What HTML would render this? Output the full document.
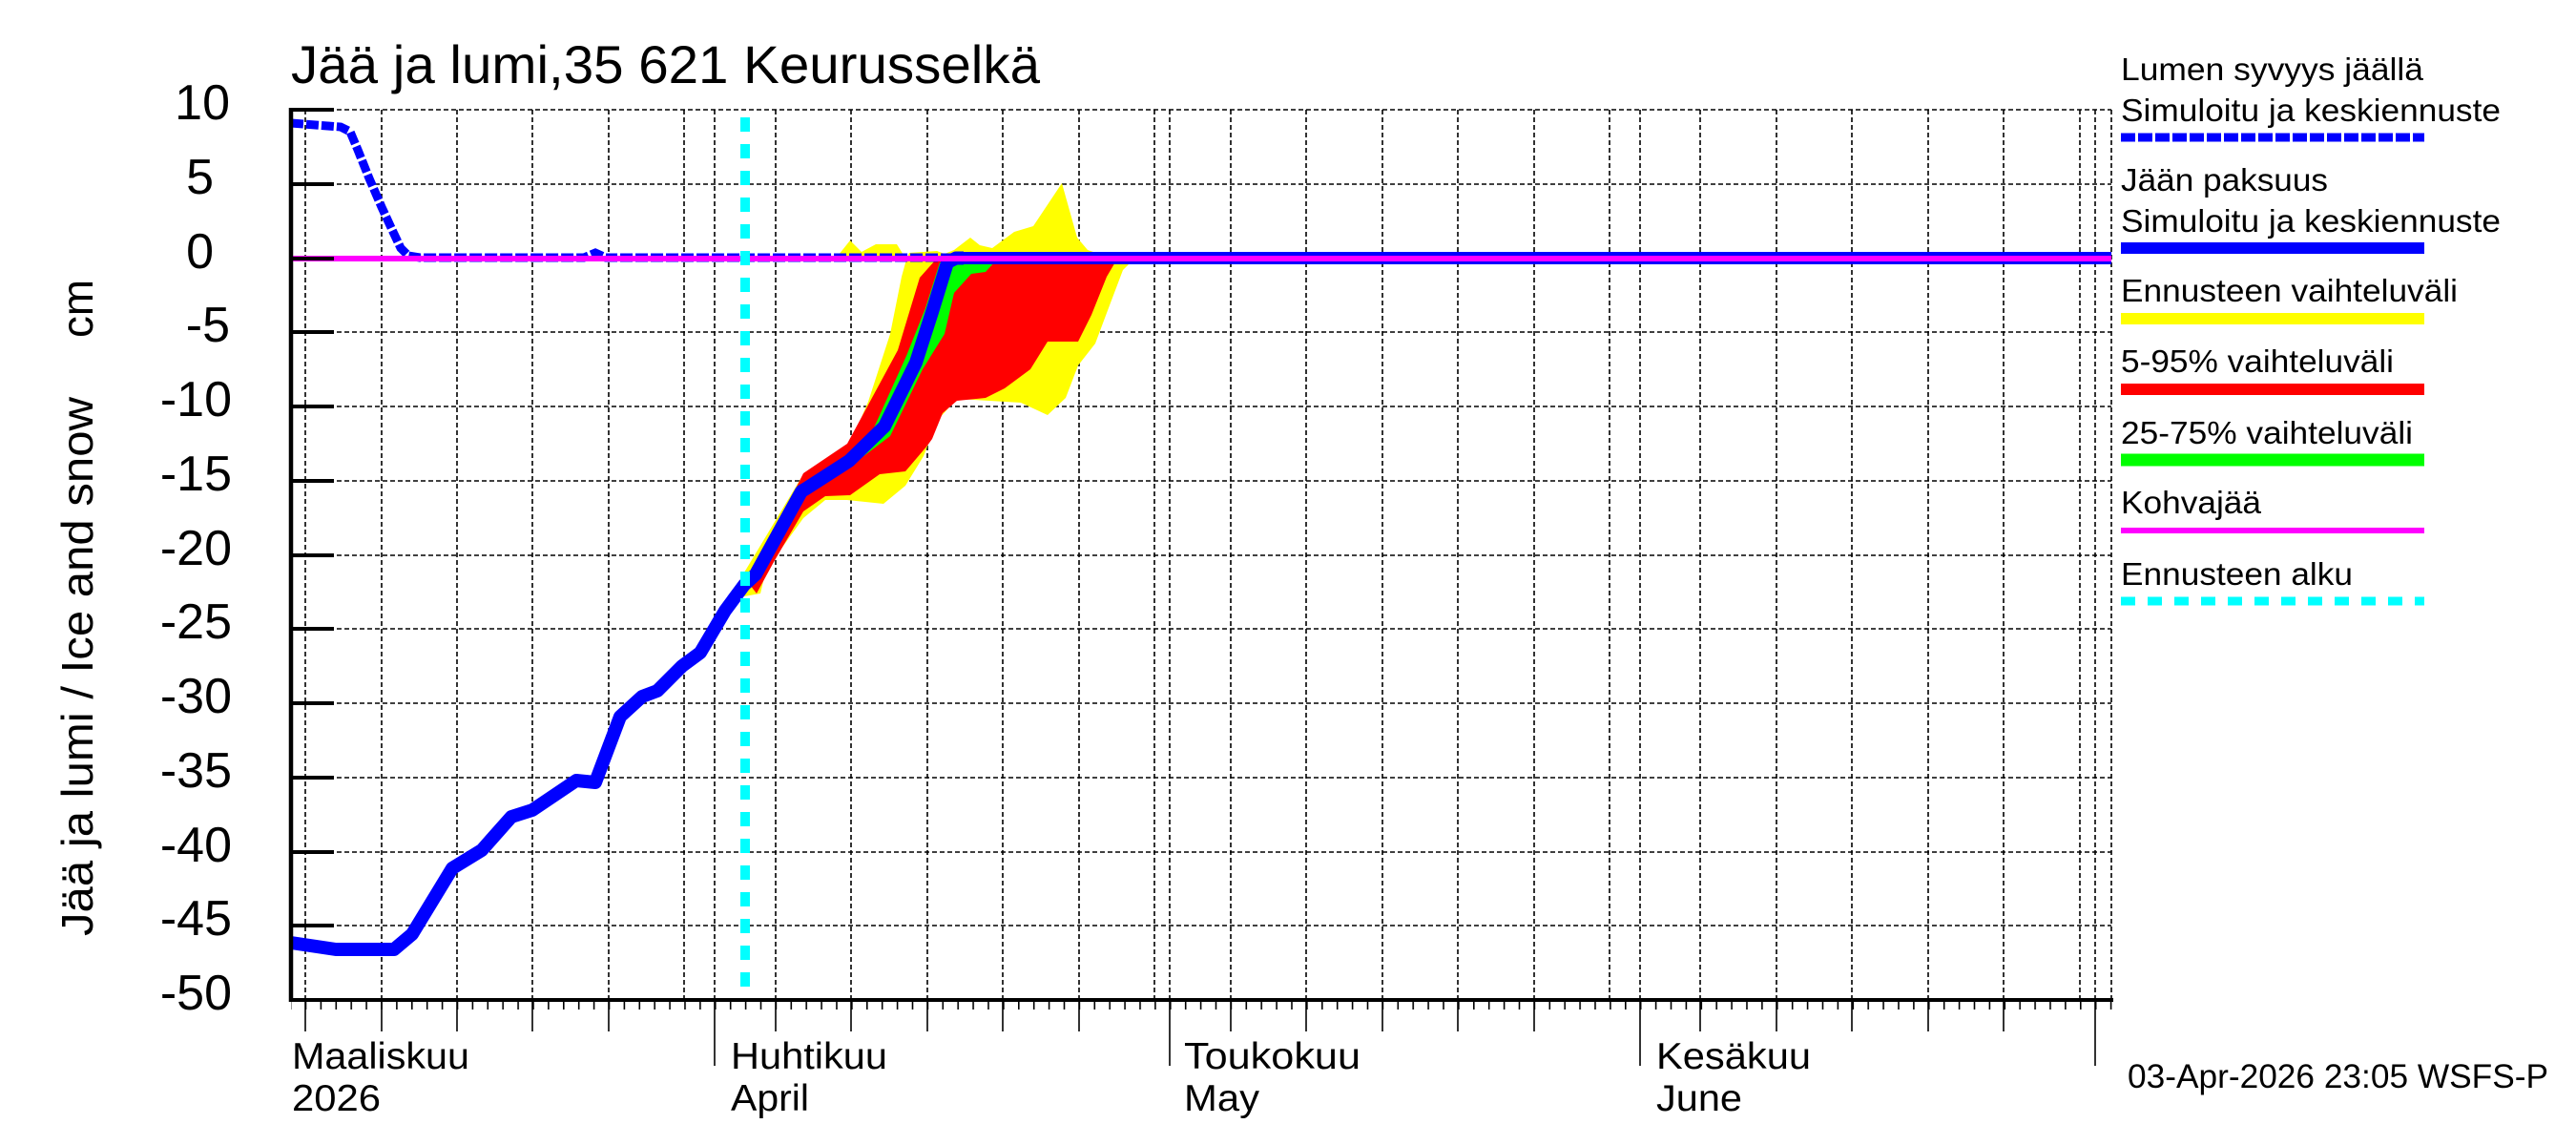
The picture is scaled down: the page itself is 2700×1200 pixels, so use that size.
<!DOCTYPE html>
<html><head><meta charset="utf-8"><style>
html,body{margin:0;padding:0;background:#fff;}
svg{display:block;}
text{font-family:"Liberation Sans",sans-serif;fill:#000;}
</style></head><body>
<svg width="2700" height="1200" viewBox="0 0 2700 1200" xmlns="http://www.w3.org/2000/svg">
<defs>
<pattern id="minor" x="749" y="0" width="15.9" height="1200" patternUnits="userSpaceOnUse">
<rect x="0" y="0" width="1.6" height="1200" fill="#000"/>
</pattern>
</defs>
<rect width="2700" height="1200" fill="#fff"/>

<!-- horizontal grid -->
<g stroke="#000" stroke-width="1.6" stroke-dasharray="5,3">
<line x1="305" y1="115" x2="2213" y2="115"/>
<line x1="305" y1="193" x2="2213" y2="193"/>
<line x1="305" y1="271" x2="2213" y2="271"/>
<line x1="305" y1="348" x2="2213" y2="348"/>
<line x1="305" y1="426" x2="2213" y2="426"/>
<line x1="305" y1="504" x2="2213" y2="504"/>
<line x1="305" y1="582" x2="2213" y2="582"/>
<line x1="305" y1="659" x2="2213" y2="659"/>
<line x1="305" y1="737" x2="2213" y2="737"/>
<line x1="305" y1="815" x2="2213" y2="815"/>
<line x1="305" y1="893" x2="2213" y2="893"/>
<line x1="305" y1="970" x2="2213" y2="970"/>
</g>
<!-- vertical grid -->
<g stroke="#000" stroke-width="1.6" stroke-dasharray="5,3">
<line x1="320" y1="115" x2="320" y2="1048"/>
<line x1="400" y1="115" x2="400" y2="1048"/>
<line x1="479" y1="115" x2="479" y2="1048"/>
<line x1="558" y1="115" x2="558" y2="1048"/>
<line x1="638" y1="115" x2="638" y2="1048"/>
<line x1="717" y1="115" x2="717" y2="1048"/>
<line x1="749" y1="115" x2="749" y2="1048"/>
<line x1="813" y1="115" x2="813" y2="1048"/>
<line x1="892" y1="115" x2="892" y2="1048"/>
<line x1="972" y1="115" x2="972" y2="1048"/>
<line x1="1051" y1="115" x2="1051" y2="1048"/>
<line x1="1131" y1="115" x2="1131" y2="1048"/>
<line x1="1210" y1="115" x2="1210" y2="1048"/>
<line x1="1226" y1="115" x2="1226" y2="1048"/>
<line x1="1290" y1="115" x2="1290" y2="1048"/>
<line x1="1369" y1="115" x2="1369" y2="1048"/>
<line x1="1449" y1="115" x2="1449" y2="1048"/>
<line x1="1528" y1="115" x2="1528" y2="1048"/>
<line x1="1608" y1="115" x2="1608" y2="1048"/>
<line x1="1687" y1="115" x2="1687" y2="1048"/>
<line x1="1719" y1="115" x2="1719" y2="1048"/>
<line x1="1782" y1="115" x2="1782" y2="1048"/>
<line x1="1862" y1="115" x2="1862" y2="1048"/>
<line x1="1941" y1="115" x2="1941" y2="1048"/>
<line x1="2021" y1="115" x2="2021" y2="1048"/>
<line x1="2100" y1="115" x2="2100" y2="1048"/>
<line x1="2180" y1="115" x2="2180" y2="1048"/>
<line x1="2196" y1="115" x2="2196" y2="1048"/>
<line x1="2213" y1="115" x2="2213" y2="1048"/>
</g>

<!-- uncertainty bands -->
<polygon fill="#ffff00" points="875,272 891,252 903,264 918,256 940,256 950,272"/>
<polygon fill="#ffff00" points="780,600 842,497 891,465 910,421 933,350 945,290 950,272 953,265 982,263 990,266 1000,262 1017,249 1027,257 1040,260 1063,243 1083,237 1113,192 1129,249 1140,262 1183,277 1177,283 1163,320 1148,360 1130,383 1117,417 1098,435 1070,422 1003,418 983,440 968,478 949,509 926,528 888,524 865,524 842,543 803,597 797,622 780,625"/>
<polygon fill="#ff0000" points="780,605 793,595 842,496 888,465 941,367 964,291 980,273 1170,273 1160,290 1144,330 1130,358 1098,358 1080,387 1053,407 1033,417 1003,420 988,433 977,460 972,467 949,494 922,497 891,519 865,520 842,536 811,589 793,622"/>
<polygon fill="#00ff00" points="860,500 913,455 950,373 970,323 985,275 1043,274 1033,285 1018,287 1000,307 990,350 967,387 933,457 900,482 862,508"/>

<!-- zero / kohvajää -->
<line x1="1000" y1="270.5" x2="2213" y2="270.5" stroke="#0000ff" stroke-width="13"/>
<!-- ice thickness -->
<polyline fill="none" stroke="#0000ff" stroke-width="14" stroke-linejoin="round" points="305,988 352,995 413,995 432,979 474,910 505,891 536,856 558,849 604,818 624,820 650,751 673,730 689,724 715,698 734,684 760,640 780,613 792,602 840,515 845,512 890,483 927,447 960,380 977,327 993,275 1002,270.5 1010,270.5"/>
<!-- snow depth -->
<polyline fill="none" stroke="#0000ff" stroke-width="9" stroke-dasharray="13,3" points="305,129 357,133 367,138 375,157 387,187 400,217 412,243 420,260 428,268 440,270 612,270 624,265 635,270 1000,270"/>
<line x1="305" y1="271" x2="2213" y2="271" stroke="#ff00ff" stroke-width="6"/>
<!-- forecast start -->
<line x1="781" y1="123" x2="781" y2="1048" stroke="#00ffff" stroke-width="10" stroke-dasharray="15,13"/>

<!-- axes -->
<line x1="305" y1="113" x2="305" y2="1050" stroke="#000" stroke-width="4.5"/>
<line x1="303" y1="1048" x2="2215" y2="1048" stroke="#000" stroke-width="4"/>
<g stroke="#000" stroke-width="4">
<line x1="305" y1="115" x2="350" y2="115"/><line x1="305" y1="193" x2="350" y2="193"/>
<line x1="305" y1="271" x2="350" y2="271"/><line x1="305" y1="348" x2="350" y2="348"/>
<line x1="305" y1="426" x2="350" y2="426"/><line x1="305" y1="504" x2="350" y2="504"/>
<line x1="305" y1="582" x2="350" y2="582"/><line x1="305" y1="659" x2="350" y2="659"/>
<line x1="305" y1="737" x2="350" y2="737"/><line x1="305" y1="815" x2="350" y2="815"/>
<line x1="305" y1="893" x2="350" y2="893"/><line x1="305" y1="970" x2="350" y2="970"/>
</g>
<rect x="305" y="1048" width="1910" height="10" fill="url(#minor)"/>
<g stroke="#000" stroke-width="1.6">
<line x1="320" y1="1048" x2="320" y2="1081"/><line x1="400" y1="1048" x2="400" y2="1081"/>
<line x1="479" y1="1048" x2="479" y2="1081"/><line x1="558" y1="1048" x2="558" y2="1081"/>
<line x1="638" y1="1048" x2="638" y2="1081"/>
<line x1="813" y1="1048" x2="813" y2="1081"/><line x1="892" y1="1048" x2="892" y2="1081"/>
<line x1="972" y1="1048" x2="972" y2="1081"/><line x1="1051" y1="1048" x2="1051" y2="1081"/>
<line x1="1131" y1="1048" x2="1131" y2="1081"/>
<line x1="1290" y1="1048" x2="1290" y2="1081"/><line x1="1369" y1="1048" x2="1369" y2="1081"/>
<line x1="1449" y1="1048" x2="1449" y2="1081"/><line x1="1528" y1="1048" x2="1528" y2="1081"/>
<line x1="1608" y1="1048" x2="1608" y2="1081"/>
<line x1="1782" y1="1048" x2="1782" y2="1081"/><line x1="1862" y1="1048" x2="1862" y2="1081"/>
<line x1="1941" y1="1048" x2="1941" y2="1081"/><line x1="2021" y1="1048" x2="2021" y2="1081"/>
<line x1="2100" y1="1048" x2="2100" y2="1081"/>
<line x1="749" y1="1048" x2="749" y2="1117"/><line x1="1226" y1="1048" x2="1226" y2="1117"/>
<line x1="1719" y1="1048" x2="1719" y2="1117"/><line x1="2196" y1="1048" x2="2196" y2="1117"/>
</g>

<!-- y tick labels -->
<g font-size="52" text-anchor="end">
<text x="241" y="125">10</text>
<text x="224" y="203">5</text>
<text x="224" y="281">0</text>
<text x="241" y="358">-5</text>
<text x="243" y="436">-10</text>
<text x="243" y="514">-15</text>
<text x="243" y="592">-20</text>
<text x="243" y="669">-25</text>
<text x="243" y="747">-30</text>
<text x="243" y="825">-35</text>
<text x="243" y="903">-40</text>
<text x="243" y="980">-45</text>
<text x="243" y="1058">-50</text>
</g>

<!-- titles -->
<text x="305" y="87" font-size="56" textLength="785" lengthAdjust="spacingAndGlyphs">Jää ja lumi,35 621 Keurusselkä</text>
<text transform="translate(97,981) rotate(-90)" font-size="46" textLength="565" lengthAdjust="spacingAndGlyphs">Jää ja lumi / Ice and snow</text>
<text transform="translate(97,354) rotate(-90)" font-size="46" textLength="61" lengthAdjust="spacingAndGlyphs">cm</text>

<!-- x labels -->
<g font-size="39">
<text x="306" y="1120" textLength="186" lengthAdjust="spacingAndGlyphs">Maaliskuu</text>
<text x="306" y="1164" textLength="93" lengthAdjust="spacingAndGlyphs">2026</text>
<text x="766" y="1120" textLength="164" lengthAdjust="spacingAndGlyphs">Huhtikuu</text>
<text x="766" y="1164" textLength="82" lengthAdjust="spacingAndGlyphs">April</text>
<text x="1241" y="1120" textLength="185" lengthAdjust="spacingAndGlyphs">Toukokuu</text>
<text x="1241" y="1164" textLength="79" lengthAdjust="spacingAndGlyphs">May</text>
<text x="1736" y="1120" textLength="162" lengthAdjust="spacingAndGlyphs">Kesäkuu</text>
<text x="1736" y="1164" textLength="90" lengthAdjust="spacingAndGlyphs">June</text>
</g>
<text x="2230" y="1140" font-size="35" textLength="441" lengthAdjust="spacingAndGlyphs">03-Apr-2026 23:05 WSFS-P</text>

<!-- legend -->
<g font-size="33">
<text x="2223" y="84" textLength="317" lengthAdjust="spacingAndGlyphs">Lumen syvyys jäällä</text>
<text x="2223" y="127" textLength="398" lengthAdjust="spacingAndGlyphs">Simuloitu ja keskiennuste</text>
<text x="2223" y="200" textLength="217" lengthAdjust="spacingAndGlyphs">Jään paksuus</text>
<text x="2223" y="243" textLength="398" lengthAdjust="spacingAndGlyphs">Simuloitu ja keskiennuste</text>
<text x="2223" y="316" textLength="353" lengthAdjust="spacingAndGlyphs">Ennusteen vaihteluväli</text>
<text x="2223" y="390" textLength="286" lengthAdjust="spacingAndGlyphs">5-95% vaihteluväli</text>
<text x="2223" y="465" textLength="306" lengthAdjust="spacingAndGlyphs">25-75% vaihteluväli</text>
<text x="2223" y="538" textLength="147" lengthAdjust="spacingAndGlyphs">Kohvajää</text>
<text x="2223" y="613" textLength="243" lengthAdjust="spacingAndGlyphs">Ennusteen alku</text>
</g>
<line x1="2223" y1="144" x2="2541" y2="144" stroke="#0000ff" stroke-width="9" stroke-dasharray="15,3"/>
<line x1="2223" y1="260" x2="2541" y2="260" stroke="#0000ff" stroke-width="12"/>
<line x1="2223" y1="334" x2="2541" y2="334" stroke="#ffff00" stroke-width="12"/>
<line x1="2223" y1="408" x2="2541" y2="408" stroke="#ff0000" stroke-width="12"/>
<line x1="2223" y1="482" x2="2541" y2="482" stroke="#00ff00" stroke-width="13"/>
<line x1="2223" y1="556" x2="2541" y2="556" stroke="#ff00ff" stroke-width="6"/>
<line x1="2223" y1="630" x2="2541" y2="630" stroke="#00ffff" stroke-width="9" stroke-dasharray="15,13"/>
</svg>
</body></html>
